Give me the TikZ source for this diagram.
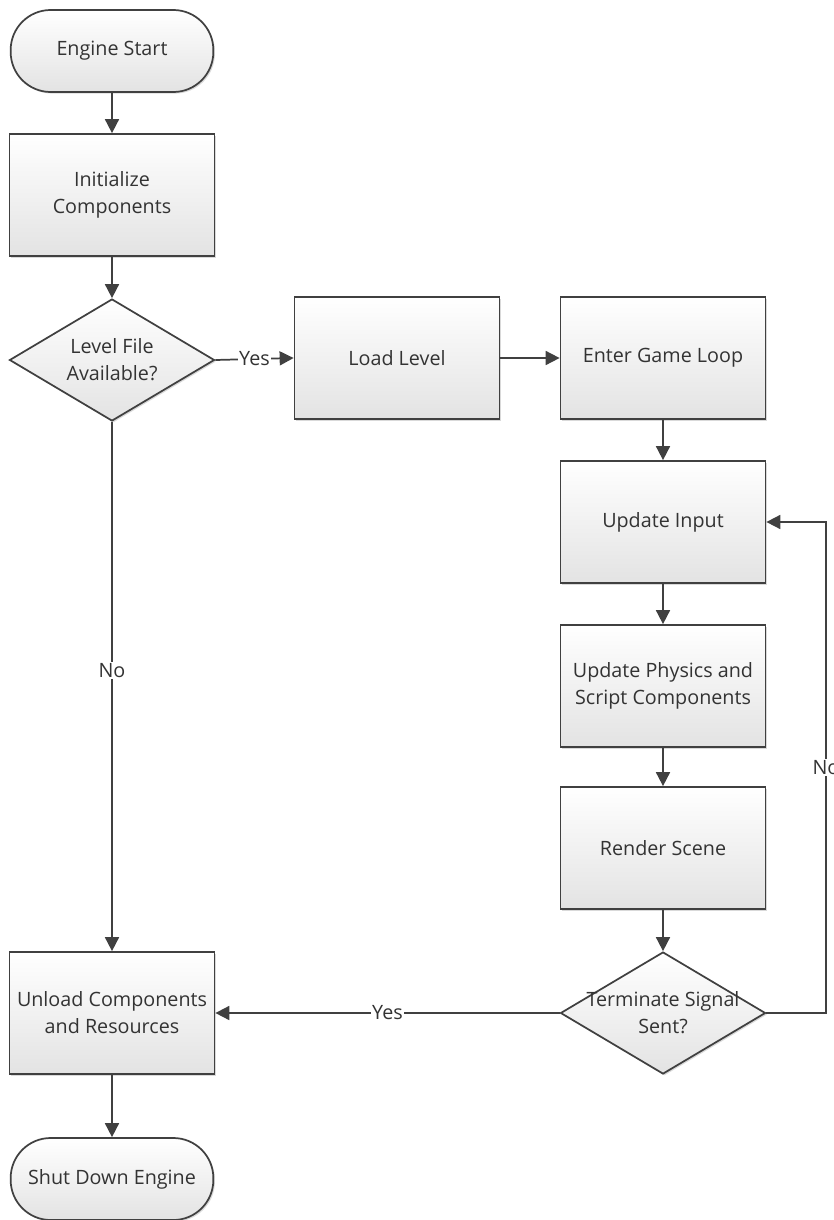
\documentclass[tikz,border=0pt]{standalone}
\usepackage{fontspec}
\setmainfont{Open Sans}
\usetikzlibrary{shapes.geometric,arrows.meta,shadows}
\definecolor{edgecol}{HTML}{404040}
\definecolor{txtcol}{HTML}{333333}
\begin{document}
\begin{tikzpicture}[x=0.75pt,y=-0.75pt,
  txtfont/.style={font=\fontsize{14.8}{20.3}\selectfont, text=txtcol},
  base/.style={draw=edgecol, line width=1.3pt, top color=white, bottom color=black!11,
    txtfont, align=center,
    drop shadow={shadow xshift=1.2pt, shadow yshift=-1.2pt, fill=black, opacity=0.15}},
  procbox/.style={base, rectangle, minimum width=153.75pt, minimum height=91.5pt, inner sep=0pt},
  termbox/.style={base, rectangle, rounded corners=30pt, minimum width=152pt, minimum height=61.5pt, inner sep=0pt},
  decbox/.style={base, diamond, minimum width=153.75pt, minimum height=91.5pt, inner sep=0pt, aspect=1.68},
  arr/.style={draw=edgecol, line width=1.3pt, -{Triangle[length=10.5pt,width=10.5pt]}},
  lbl/.style={fill=white, txtfont, inner sep=1pt}
]
\useasboundingbox (0,0) rectangle (834,1220);

\node[termbox] (start) at (112,51) {Engine Start};
\node[procbox] (init) at (112,195) {Initialize\\Components};
\node[decbox, label={[txtfont, align=center]center:Level File\\Available?}] (dec1) at (112,360) {};
\node[procbox] (load) at (397,358) {Load Level};
\node[procbox] (loop) at (663,358) {Enter Game Loop};
\node[procbox] (input) at (663,522) {Update Input};
\node[procbox] (phys) at (663,686) {Update Physics and\\Script Components};
\node[procbox] (render) at (663,848) {Render Scene};
\node[decbox, label={[txtfont, align=center]center:Terminate Signal\\Sent?}] (dec2) at (663,1013) {};
\node[procbox] (unload) at (112,1013) {Unload Components\\and Resources};
\node[termbox] (stop) at (112,1179) {Shut Down Engine};

\coordinate (rt) at (826,1013);

\draw[arr] (start) -- (init);
\draw[arr] (init) -- (dec1);
\draw[arr] (dec1.east) -- node[lbl] {Yes} (load.west);
\draw[arr] (load) -- (loop);
\draw[arr] (loop) -- (input);
\draw[arr] (input) -- (phys);
\draw[arr] (phys) -- (render);
\draw[arr] (render) -- (dec2);
\draw[arr] (dec2.west) -- node[lbl] {Yes} (unload.east);
\draw[arr] (dec2.east) -- (rt) |- node[lbl, pos=0.25] {No} (input.east);
\draw[arr] (dec1.south) -- node[lbl, pos=0.47] {No} (unload.north);
\draw[arr] (unload) -- (stop);
\end{tikzpicture}
\end{document}
